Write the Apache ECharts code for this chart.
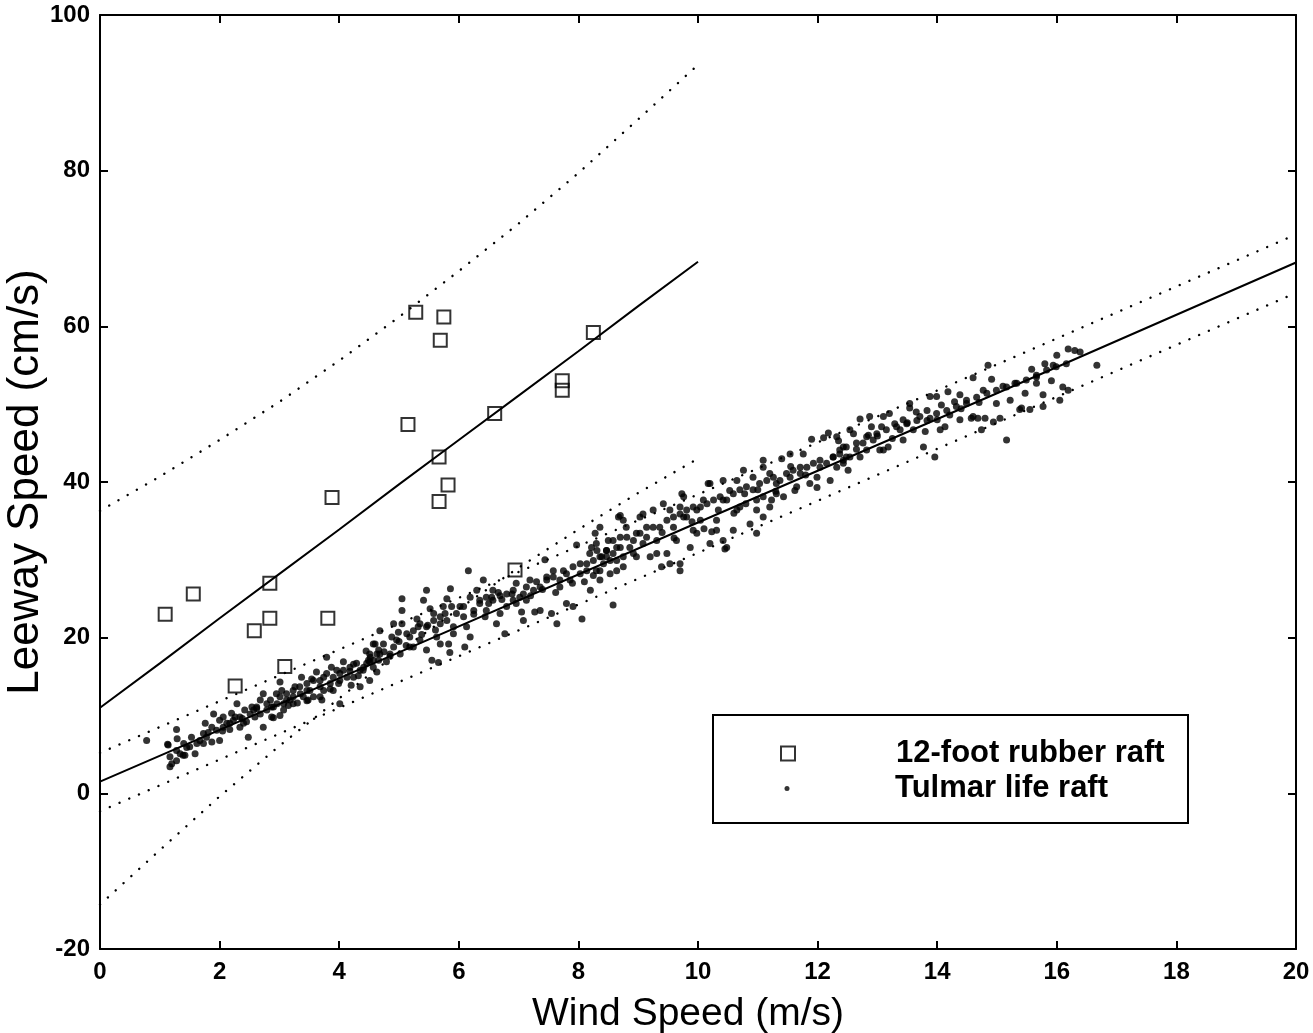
<!DOCTYPE html>
<html><head><meta charset="utf-8">
<script src="https://cdn.jsdelivr.net/npm/echarts@6/dist/echarts.min.js"></script>
<style>html,body{margin:0;padding:0;background:#fff}#c{width:1313px;height:1033px}</style>
</head><body><div id="c"></div>
<script>
const xTicks = [0, 2, 4, 6, 8, 10, 12, 14, 16, 18, 20];
const yTicks = [-20, 0, 20, 40, 60, 80, 100];
const seriesNames = ['12-foot rubber raft', 'Tulmar life raft'];
const rubberPoints = [
  [1.09,23.0],[1.56,25.6],[2.84,27.0],[2.58,20.9],[2.84,22.5],[2.26,13.8],[3.09,16.3],
  [3.81,22.5],[3.88,38.0],[5.15,47.4],[5.28,61.8],[5.75,61.2],[5.69,58.2],[5.67,43.2],
  [5.82,39.6],[5.67,37.5],[6.60,48.8],[7.73,53.0],[7.73,51.8],[8.25,59.2],[6.94,28.7]
];
const tulmarPoints = [
  [0.78,6.8],[1.13,6.3],[1.28,8.2],[1.29,7.0],[1.17,4.7],[1.20,3.8],[1.17,3.4],[1.34,5.1],[1.42,4.9],
  [1.53,7.2],[1.59,5.1],[1.14,6.2],[1.28,4.2],[1.39,4.9],[1.50,6.0],[1.73,6.4],[1.76,9.0],[1.81,7.8],
  [1.90,10.2],[1.87,6.6],[2.00,6.8],[2.06,9.8],[2.12,9.0],[2.17,8.2],[2.26,9.8],[2.29,11.5],[2.34,8.5],
  [2.42,10.7],[2.48,7.2],[2.45,9.2],[2.54,11.1],[2.59,9.8],[2.68,12.0],[2.73,8.5],[2.79,10.7],[2.87,11.1],
  [2.95,12.8],[3.01,10.0],[3.04,13.2],[3.07,10.7],[3.12,12.0],[3.23,12.4],[3.26,13.7],[3.35,12.8],[3.37,14.9],
  [3.46,13.2],[3.54,14.7],[3.57,12.4],[3.68,13.7],[3.71,12.0],[3.74,14.9],[3.79,17.5],[3.87,16.2],[3.90,14.9],
  [3.99,14.1],[4.01,15.4],[4.07,16.9],[4.13,14.9],[4.18,15.7],[4.24,16.6],[4.32,15.1],[4.35,13.7],[4.41,16.2],
  [4.49,17.1],[4.51,14.5],[4.60,19.2],[4.63,17.9],[4.01,11.5],[3.01,14.3],[2.05,8.0],[2.20,10.3],[2.38,9.6],
  [2.62,10.9],[2.90,9.7],[3.15,11.3],[3.30,11.6],[3.48,12.0],[3.62,15.6],[3.85,13.4],[4.20,13.9],[4.45,18.3],
  [1.45,5.9],[1.67,6.8],[1.78,7.2],[1.95,8.1],[2.06,8.5],[2.17,9.0],[2.23,9.4],[2.34,9.8],[2.40,9.0],
  [2.51,10.2],[2.57,10.7],[2.62,11.1],[2.68,10.2],[2.79,11.5],[2.85,12.0],[2.90,11.1],[2.96,11.5],[3.01,12.4],
  [3.07,11.5],[3.12,12.8],[3.18,12.0],[3.23,13.2],[3.34,13.7],[3.40,12.4],[3.46,14.1],[3.51,13.2],[3.57,14.5],
  [3.68,14.5],[3.74,13.2],[3.79,15.4],[3.85,14.1],[3.96,15.8],[4.01,14.5],[4.07,15.8],[4.18,16.2],[4.24,14.9],
  [4.29,16.7],[4.35,15.8],[4.46,16.7],[4.52,17.5],[4.57,16.2],[4.66,18.4],[4.66,17.1],[2.00,9.4],[1.87,8.5],
  [1.73,7.7],[1.62,6.4],[1.40,6.4],[1.28,5.5],[2.73,12.8],[2.87,9.8],[3.23,11.5],[3.46,11.9],[3.68,12.4],[3.90,13.2],
  [4.57,19.2],[4.68,17.9],[4.51,16.9],[4.63,15.6],[4.79,16.9],[4.91,18.8],[4.88,20.1],[4.99,20.7],[5.05,21.8],
  [5.05,25.0],[5.18,20.1],[5.24,18.8],[5.32,21.4],[5.30,22.4],[5.41,24.8],[5.46,26.1],[5.52,23.7],[5.58,22.2],
  [5.61,21.0],[5.69,21.8],[5.77,23.1],[5.80,25.0],[5.86,26.3],[5.88,24.0],[5.91,21.4],[5.69,19.2],[5.83,19.2],
  [5.55,17.1],[5.66,16.8],[5.85,18.1],[6.02,24.0],[6.08,22.7],[6.13,21.4],[6.19,20.1],[6.10,18.8],[6.19,25.2],
  [6.30,26.1],[6.16,28.6],[6.41,27.4],[6.35,24.4],[6.44,22.7],[6.46,23.5],[6.55,25.2],[6.57,26.1],[6.66,25.8],
  [6.63,21.8],[6.77,20.5],[6.69,23.1],[6.80,24.0],[6.89,25.6],[6.91,24.8],[7.02,25.2],[7.05,23.3],[7.08,22.2],
  [6.96,27.0],[7.13,26.5],[7.19,27.4],[7.30,27.2],[7.36,23.5],[7.27,23.3],[7.44,30.0],[7.47,27.4],[7.55,23.1],
  [7.58,27.8],[7.64,21.8],[7.69,26.5],[7.75,28.6],[7.86,27.4],[7.80,24.4],[7.91,24.0],[7.97,31.9],[8.03,28.2],
  [8.06,22.4],[8.14,29.5],[8.20,26.1],[8.28,33.4],[8.31,31.2],[8.36,27.4],[8.42,29.5],[8.47,31.2],[8.58,24.2],
  [8.64,31.6],[8.67,35.5],[8.36,30.4],[4.75,18.2],[4.85,17.6],[5.00,19.5],[5.12,19.0],[5.38,20.4],[5.48,21.6],
  [6.25,23.0],[6.50,24.4],[6.72,24.9],[7.20,25.4],[7.40,26.2],[7.62,25.8],[7.90,27.0],[8.10,27.2],[8.25,28.0],
  [4.40,15.8],[4.51,17.9],[4.74,19.2],[4.85,17.9],[4.96,19.7],[5.02,17.9],[5.13,20.5],[5.24,20.9],[5.35,21.8],
  [5.46,21.4],[5.58,23.1],[5.69,22.7],[5.80,22.2],[5.96,23.1],[6.08,24.0],[6.25,23.5],[6.35,24.8],[6.46,25.2],
  [6.57,24.8],[6.69,25.4],[6.80,25.6],[6.91,26.1],[6.96,24.4],[7.08,25.6],[7.13,24.8],[7.25,26.1],[7.36,26.5],
  [7.47,27.8],[7.58,28.6],[7.69,27.4],[7.80,28.2],[7.91,29.1],[8.03,29.5],[8.14,28.6],[8.25,29.9],[8.36,28.6],
  [8.47,30.4],[8.58,30.8],[8.64,29.9],[4.91,21.8],[4.68,20.9],[4.57,17.1],[5.18,18.8],[5.35,19.7],[5.46,18.4],
  [5.63,20.1],[5.91,20.5],[5.74,24.0],[5.05,23.5],
  [8.22,31.6],[8.39,30.4],[8.50,32.5],[8.75,29.1],[8.92,30.8],[9.08,32.1],[9.20,30.4],[8.80,34.2],[8.53,28.2],
  [8.30,28.6],[9.53,29.5],[9.70,28.6],[8.36,34.2],[8.70,32.9],[8.53,29.9],[8.64,28.6],[8.75,30.4],[8.70,35.7],
  [8.86,31.6],[8.97,33.4],[9.03,35.5],[9.14,34.2],[9.25,36.4],[9.31,32.5],[9.39,29.1],[9.48,30.8],[9.53,36.4],
  [9.59,34.2],[9.70,29.5],[9.73,38.5],[9.81,36.4],[9.87,31.6],[9.92,33.8],[10.04,35.1],[10.09,37.7],[10.17,39.8],
  [10.20,32.1],[10.31,33.8],[10.34,36.4],[10.42,37.7],[10.48,31.6],[10.53,38.9],[10.59,33.8],[10.65,40.2],[10.70,36.8],
  [10.78,38.5],[10.87,34.6],[10.92,40.6],[10.98,36.4],[11.09,42.8],[11.09,38.1],[11.20,41.1],[11.23,37.7],[11.31,39.8],
  [11.40,43.0],[11.43,38.1],[11.54,40.6],[11.62,38.9],[11.71,41.9],[11.76,43.6],[11.87,39.8],[11.90,45.5],[11.99,39.3],
  [12.04,41.9],[12.10,45.7],[12.18,46.3],[12.21,40.2],[12.32,41.9],[12.35,45.3],[12.43,42.8],[12.51,41.5],[10.23,33.6],
  [10.42,32.5],[10.45,31.4],[10.98,33.4],[11.09,35.5],[11.20,36.8],[9.70,36.8],[9.76,35.5],[9.98,36.4],[9.40,33.5],
  [9.60,32.8],[9.90,34.9],[10.10,34.0],[10.60,36.0],[10.80,37.2],[11.00,39.0],[11.30,38.8],[11.55,42.0],[11.80,40.9],
  [8.19,30.8],[8.30,32.1],[8.47,31.2],[8.58,32.5],[8.70,31.6],[8.81,32.9],[8.92,32.5],[9.03,33.4],[9.14,32.9],
  [9.25,34.2],[9.36,34.2],[9.48,35.1],[9.59,35.5],[9.70,35.9],[9.81,35.5],[9.92,36.8],[10.04,36.8],[10.15,37.2],
  [10.26,37.7],[10.37,38.1],[10.48,37.7],[10.59,38.5],[10.70,39.0],[10.81,39.4],[10.92,39.0],[11.03,39.8],[11.15,40.2],
  [11.26,40.6],[11.37,40.2],[11.48,41.1],[11.59,41.5],[11.71,41.1],[11.82,41.9],[11.93,42.4],[12.04,42.8],[12.15,42.4],
  [12.26,43.2],[12.37,43.6],[12.48,43.2],[8.97,30.4],[9.31,30.8],[9.64,32.5],[9.98,33.4],[10.31,35.1],[10.65,36.4],
  [10.98,37.7],[11.31,38.5],[11.65,39.4],[11.99,40.6],[8.75,35.1],[9.08,35.9],[9.42,37.2],[9.76,38.1],[10.20,39.8],
  [10.42,40.2],[10.76,41.5],[11.09,41.9],[11.54,43.6],
  [12.32,45.8],[12.43,44.5],[12.54,43.2],[12.60,46.2],[12.71,48.1],[12.76,45.0],[12.82,44.1],[12.90,47.1],[12.93,45.4],
  [13.07,47.1],[13.10,44.1],[13.18,44.5],[13.10,48.4],[13.29,47.5],[13.38,46.7],[13.43,48.0],[13.54,49.5],[13.60,46.7],
  [13.71,48.4],[13.80,46.5],[13.83,49.2],[13.88,48.2],[13.77,44.5],[13.96,43.2],[13.99,51.0],[14.07,49.9],[14.13,47.1],
  [14.18,51.6],[14.21,48.6],[14.29,50.3],[14.38,51.2],[14.49,50.5],[14.57,48.2],[14.60,53.4],[14.68,48.2],[14.74,46.7],
  [14.77,51.8],[14.80,48.2],[14.85,55.0],[14.91,53.2],[14.94,47.7],[14.99,50.1],[15.05,48.2],[15.10,52.3],[15.16,45.4],
  [15.22,50.5],[15.30,52.7],[15.41,49.5],[15.47,51.4],[15.55,49.3],[15.58,54.5],[15.66,53.7],[15.66,52.7],[15.77,51.2],
  [15.80,55.2],[15.91,53.0],[15.94,55.0],[16.00,56.3],[16.10,52.2],[16.19,57.1],[16.19,51.8],[16.30,56.9],[16.67,55.0],
  [12.65,44.2],[12.85,46.0],[13.00,45.9],[13.25,45.6],[13.50,47.6],[13.65,49.0],[14.00,48.0],[14.40,49.4],[14.70,50.2],
  [12.26,43.2],[12.37,44.1],[12.48,44.5],[12.65,45.0],[12.82,45.8],[12.99,46.2],[13.15,46.7],[13.32,47.1],[13.49,47.5],
  [13.66,47.9],[13.83,47.9],[13.99,48.8],[14.16,49.2],[14.32,49.7],[14.49,50.1],[14.66,50.9],[14.83,51.4],[14.99,51.8],
  [15.16,52.2],[15.33,52.7],[15.49,53.1],[15.66,53.5],[15.83,54.4],[15.99,54.8],[16.16,55.2],[12.54,46.7],[12.87,48.4],
  [13.20,48.8],[13.54,50.1],[13.88,51.0],[12.43,42.4],[12.71,43.2],[13.04,44.1],[13.43,45.4],[14.05,46.7],[14.38,48.0],
  [14.60,48.4],[15.38,49.3],[15.77,49.7],[16.05,50.5],[16.39,56.7]
];
const rubberFitX = [0, 1, 2, 3, 4, 5, 6, 7, 8, 9, 10];
const rubberFit = [11.0, 16.7, 22.5, 28.2, 33.9, 39.7, 45.4, 51.1, 56.8, 62.6, 68.3];
const rubberUpper = [36.3, 40.7, 45.4, 50.3, 55.6, 61.2, 67.1, 73.2, 79.7, 86.6, 93.6];
const rubberLower = [-14.3, -7.3, -0.4, 6.1, 12.2, 18.2, 23.7, 29.0, 33.9, 38.6, 43.0];
const tulmarFitX = [0, 5, 10, 15, 20];
const tulmarFit = [1.5, 18.1, 34.8, 51.4, 68.2];
const tulmarUpper = [5.2, 21.8, 38.4, 55.1, 71.8];
const tulmarLower = [-2.3, 14.3, 30.9, 47.6, 64.3];

const FONT = '"Liberation Sans", Arial, Helvetica, sans-serif';
const zip = (xs, ys) => xs.map((x, i) => [x, ys[i]]);
const solid = { color: '#000', width: 2 };
const dotted = { color: '#000', width: 2.4, type: [0.1, 10.5], cap: 'round' };
function lineSeries(xs, ys, style) {
  return { type: 'line', data: zip(xs, ys), showSymbol: false, symbol: 'none', silent: true,
    lineStyle: style, z: 3, animation: false };
}
const chart = echarts.init(document.getElementById('c'), null, { renderer: 'canvas' });
const axisCommon = {
  type: 'value', splitLine: { show: false },
  axisLine: { show: true, onZero: false, lineStyle: { color: '#000', width: 2 } },
  axisTick: { show: true, inside: true, length: 8, lineStyle: { color: '#000', width: 2 } },
};
const legendText = { fontFamily: FONT, fontSize: 31, fontWeight: 'bold', color: '#000' };
chart.setOption({
  animation: false,
  backgroundColor: '#fff',
  grid: { left: 100, top: 15, right: 17, bottom: 84, containLabel: false, outerBoundsMode: 'none' },
  xAxis: [
    Object.assign({}, axisCommon, { min: xTicks[0], max: xTicks[xTicks.length - 1], interval: 2, position: 'bottom',
      name: 'Wind Speed (m/s)', nameLocation: 'middle', nameGap: 46,
      nameTextStyle: { fontFamily: FONT, fontSize: 39, color: '#000', padding: [0, 20, 0, 0] },
      axisLabel: { show: true, margin: 11, fontFamily: FONT, fontSize: 24, fontWeight: 'bold', color: '#000' } }),
    Object.assign({}, axisCommon, { min: xTicks[0], max: xTicks[xTicks.length - 1], interval: 2, position: 'top',
      axisLabel: { show: false } })
  ],
  yAxis: [
    Object.assign({}, axisCommon, { min: yTicks[0], max: yTicks[yTicks.length - 1], interval: 20, position: 'left',
      name: 'Leeway Speed (cm/s)', nameLocation: 'middle', nameGap: 52, nameRotate: 90, nameMoveOverlap: false,
      nameTextStyle: { fontFamily: FONT, fontSize: 44, color: '#000' },
      axisLabel: { show: true, margin: 10, fontFamily: FONT, fontSize: 24, fontWeight: 'bold', color: '#000' } }),
    Object.assign({}, axisCommon, { min: yTicks[0], max: yTicks[yTicks.length - 1], interval: 20, position: 'right',
      axisLabel: { show: false } })
  ],
  legend: [
    { data: [seriesNames[0]], left: 775, top: 733, z: 20, orient: 'vertical', itemWidth: 14, itemHeight: 14,
      textStyle: Object.assign({ padding: [0, 0, 0, 96] }, legendText), selectedMode: false },
    { data: [seriesNames[1]], left: 779.5, top: 768, z: 20, orient: 'vertical', itemWidth: 5, itemHeight: 5,
      textStyle: Object.assign({ padding: [0, 0, 0, 100.5] }, legendText), selectedMode: false }
  ],
  graphic: [{ type: 'rect', shape: { x: 713, y: 715, width: 475, height: 108 }, z: 1,
    style: { fill: '#fff', stroke: '#000', lineWidth: 2 } }],
  series: [
    { name: seriesNames[0], type: 'scatter', data: rubberPoints, symbol: 'rect', symbolSize: 13, z: 5,
      itemStyle: { color: 'rgba(0,0,0,0)', borderColor: '#000', borderWidth: 2 } },
    { name: seriesNames[1], type: 'scatter', data: tulmarPoints, symbol: 'circle', symbolSize: 7, z: 4,
      itemStyle: { color: '#000' } },
    lineSeries(rubberFitX, rubberFit, solid),
    lineSeries(rubberFitX, rubberUpper, dotted),
    lineSeries(rubberFitX, rubberLower, dotted),
    lineSeries(tulmarFitX, tulmarFit, solid),
    lineSeries(tulmarFitX, tulmarUpper, dotted),
    lineSeries(tulmarFitX, tulmarLower, dotted)
  ]
});
</script></body></html>
